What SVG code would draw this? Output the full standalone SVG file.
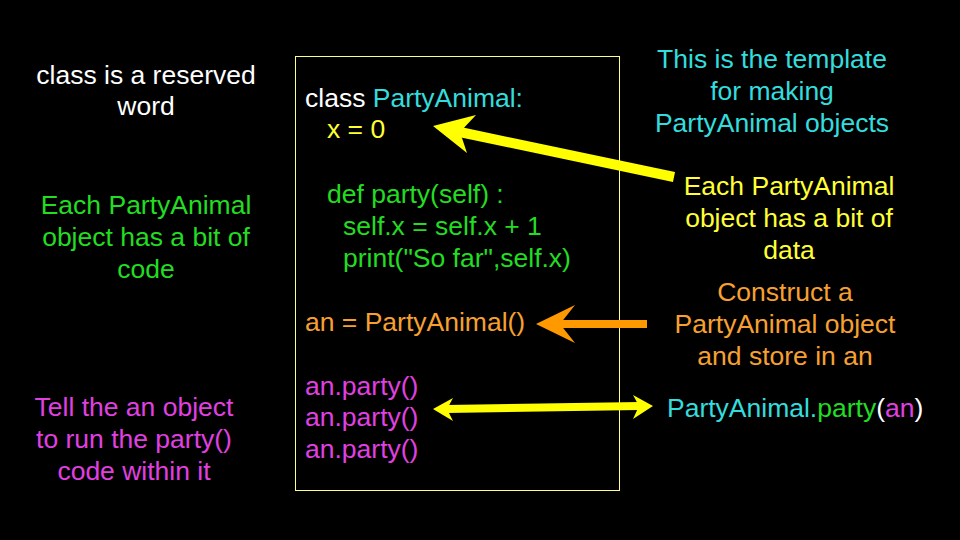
<svg xmlns="http://www.w3.org/2000/svg" width="960" height="540" viewBox="0 0 960 540">
  <style>
    text { font-family: "Liberation Sans", Arial, sans-serif; font-size: 26.5px; }
    .w { fill: #ffffff; }
    .c { fill: #33dddd; }
    .y { fill: #ffff33; }
    .g { fill: #22dd22; }
    .o { fill: #f7a030; }
    .m { fill: #e040e0; }
    .mid { text-anchor: middle; }
  </style>
  <rect width="960" height="540" fill="#000000"/>

  <!-- code listing -->
  <g id="code">
    <rect x="295.5" y="56.5" width="324" height="434" fill="none" stroke="#ffff88" stroke-width="1"/>
    <text x="305" y="107"><tspan class="w">class </tspan><tspan class="c">PartyAnimal:</tspan></text>
    <text x="327" y="138" class="y">x = 0</text>
    <text x="327" y="203" class="g">def party(self) :</text>
    <text x="343" y="235" class="g">self.x = self.x + 1</text>
    <text x="343" y="267" class="g">print("So far",self.x)</text>
    <text x="305" y="331" class="o">an = PartyAnimal()</text>
    <text x="305" y="395" class="m">an.party()</text>
    <text x="305" y="426" class="m">an.party()</text>
    <text x="305" y="458" class="m">an.party()</text>
  </g>

  <!-- notes -->
  <g id="note-reserved">
    <text x="146" y="84" class="w mid">class is a reserved</text>
    <text x="146" y="115" class="w mid">word</text>
  </g>
  <g id="note-code">
    <text x="146" y="214" class="g mid">Each PartyAnimal</text>
    <text x="146" y="246" class="g mid">object has a bit of</text>
    <text x="146" y="278" class="g mid">code</text>
  </g>
  <g id="note-run">
    <text x="134" y="416" class="m mid">Tell the an object</text>
    <text x="134" y="448" class="m mid">to run the party()</text>
    <text x="134" y="480" class="m mid">code within it</text>
  </g>
  <g id="note-template">
    <text x="772" y="68" class="c mid">This is the template</text>
    <text x="772" y="100" class="c mid">for making</text>
    <text x="772" y="132" class="c mid">PartyAnimal objects</text>
  </g>
  <g id="note-data">
    <text x="789" y="195" class="y mid">Each PartyAnimal</text>
    <text x="789" y="227" class="y mid">object has a bit of</text>
    <text x="789" y="259" class="y mid">data</text>
  </g>
  <g id="note-construct">
    <text x="785" y="301" class="o mid">Construct a</text>
    <text x="785" y="333" class="o mid">PartyAnimal object</text>
    <text x="785" y="365" class="o mid">and store in an</text>
  </g>
  <g id="note-call">
    <text x="667" y="417"><tspan class="c">PartyAnimal.</tspan><tspan class="g">party</tspan><tspan class="w">(</tspan><tspan class="m">an</tspan><tspan class="w">)</tspan></text>
  </g>

  <!-- connectors -->
  <g id="connectors">
    <!-- data -> x = 0 -->
    <line x1="674" y1="177" x2="455" y2="131" stroke="#ffff00" stroke-width="10"/>
    <polygon points="433,126 476,115 460,132 467,153" fill="#ffff00"/>
    <!-- construct -> an = PartyAnimal() -->
    <line x1="647" y1="324" x2="558" y2="324" stroke="#ff9900" stroke-width="8"/>
    <polygon points="536,324 575,305 560,324 575,343" fill="#ff9900"/>
    <!-- an.party() <-> PartyAnimal.party(an) -->
    <line x1="446" y1="409" x2="640" y2="406" stroke="#ffff00" stroke-width="8"/>
    <polygon points="433,409 453,398 447,409 453,421" fill="#ffff00"/>
    <polygon points="653,406 633,395 639,406 633,419" fill="#ffff00"/>
  </g>
</svg>
